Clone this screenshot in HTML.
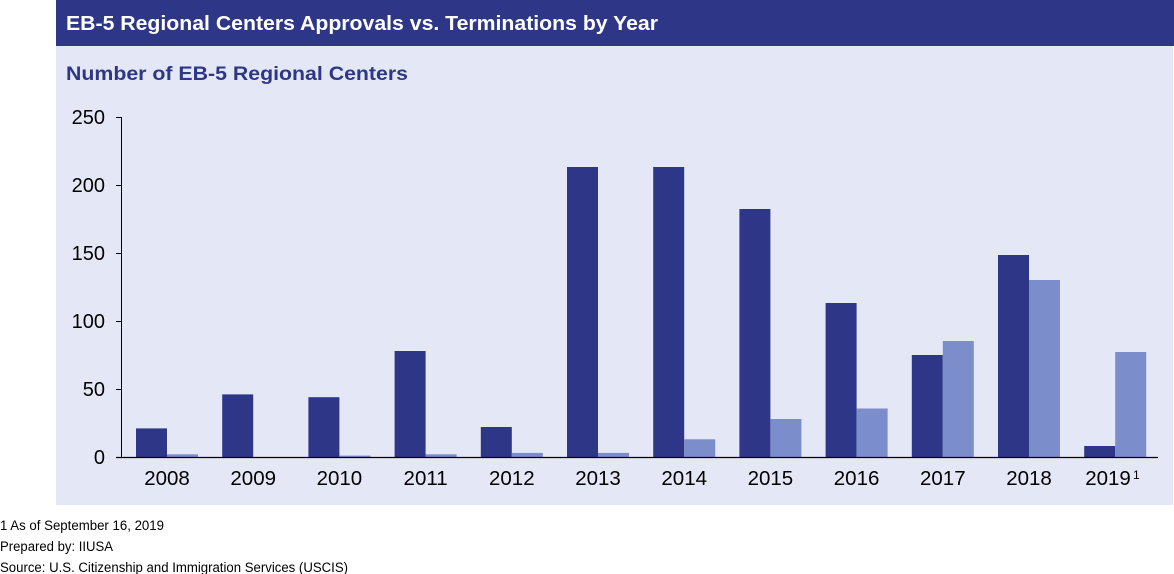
<!DOCTYPE html>
<html><head><meta charset="utf-8"><style>
body{margin:0;width:1174px;height:574px;background:#fff;font-family:"Liberation Sans",Arial,sans-serif;position:relative;overflow:hidden}
</style></head><body>
<svg width="1174" height="574" xmlns="http://www.w3.org/2000/svg" style="position:absolute;left:0;top:0;font-family:'Liberation Sans',Arial,sans-serif">
<rect x="56" y="46" width="1117" height="459" fill="#e4e7f5"/>
<rect x="56" y="0" width="1118" height="46" fill="#2e3787"/>
<text x="66" y="30" font-size="20.5" font-weight="bold" fill="#fff" textLength="592" lengthAdjust="spacingAndGlyphs">EB-5 Regional Centers Approvals vs. Terminations by Year</text>
<text x="66" y="80" font-size="19" font-weight="bold" fill="#2e3787" textLength="342" lengthAdjust="spacingAndGlyphs">Number of EB-5 Regional Centers</text>
<g font-size="20" fill="#000" text-anchor="end">
<text x="105" y="464">0</text><text x="105" y="396">50</text><text x="105" y="328">100</text><text x="105" y="260">150</text><text x="105" y="192">200</text><text x="105" y="124">250</text>
</g>
<g stroke="#000" stroke-width="1">
<line x1="121.5" y1="117" x2="121.5" y2="457"/>
<line x1="116" y1="117.5" x2="121" y2="117.5"/><line x1="116" y1="185.5" x2="121" y2="185.5"/><line x1="116" y1="253.5" x2="121" y2="253.5"/><line x1="116" y1="321.5" x2="121" y2="321.5"/><line x1="116" y1="389.5" x2="121" y2="389.5"/><line x1="116" y1="457.5" x2="121" y2="457.5"/>
</g>
<g fill="#2e3787">
<rect x="136" y="428.4" width="31" height="28.6"/><rect x="222.2" y="394.4" width="31" height="62.6"/><rect x="308.4" y="397.2" width="31" height="59.8"/><rect x="394.6" y="351" width="31" height="106"/><rect x="480.8" y="427" width="31" height="30"/><rect x="567" y="167" width="31" height="290"/><rect x="653.2" y="167" width="31" height="290"/><rect x="739.4" y="209" width="31" height="248"/><rect x="825.6" y="303" width="31" height="154"/><rect x="911.8" y="355" width="31" height="102"/><rect x="998" y="255" width="31" height="202"/><rect x="1084.2" y="446" width="31" height="11"/>
</g>
<g fill="#7b8dcb">
<rect x="167" y="454.3" width="31" height="2.7"/><rect x="339.4" y="455.6" width="31" height="1.4"/><rect x="425.6" y="454.3" width="31" height="2.7"/><rect x="511.8" y="452.9" width="31" height="4.1"/><rect x="598" y="452.9" width="31" height="4.1"/><rect x="684.2" y="439.3" width="31" height="17.7"/><rect x="770.4" y="419" width="31" height="38"/><rect x="856.6" y="408.5" width="31" height="48.5"/><rect x="942.8" y="341" width="31" height="116"/><rect x="1029" y="280" width="31" height="177"/><rect x="1115.2" y="352" width="31" height="105"/>
</g>
<line x1="116" y1="457.5" x2="1158" y2="457.5" stroke="#000" stroke-width="1.2"/>
<g font-size="20.5" fill="#000" text-anchor="middle">
<text x="167" y="485">2008</text><text x="253.2" y="485">2009</text><text x="339.4" y="485">2010</text><text x="425.6" y="485">2011</text><text x="511.8" y="485">2012</text><text x="598" y="485">2013</text><text x="684.2" y="485">2014</text><text x="770.4" y="485">2015</text><text x="856.6" y="485">2016</text><text x="942.8" y="485">2017</text><text x="1029" y="485">2018</text><text x="1108" y="485">2019</text>
</g>
<text x="1133" y="479" font-size="12" fill="#000">1</text>
<g font-size="13.5" fill="#000">
<text x="0" y="530" textLength="164" lengthAdjust="spacingAndGlyphs">1 As of September 16, 2019</text>
<text x="0" y="551" textLength="113" lengthAdjust="spacingAndGlyphs">Prepared by: IIUSA</text>
<text x="0" y="572" textLength="348" lengthAdjust="spacingAndGlyphs">Source: U.S. Citizenship and Immigration Services (USCIS)</text>
</g>
</svg>
</body></html>
